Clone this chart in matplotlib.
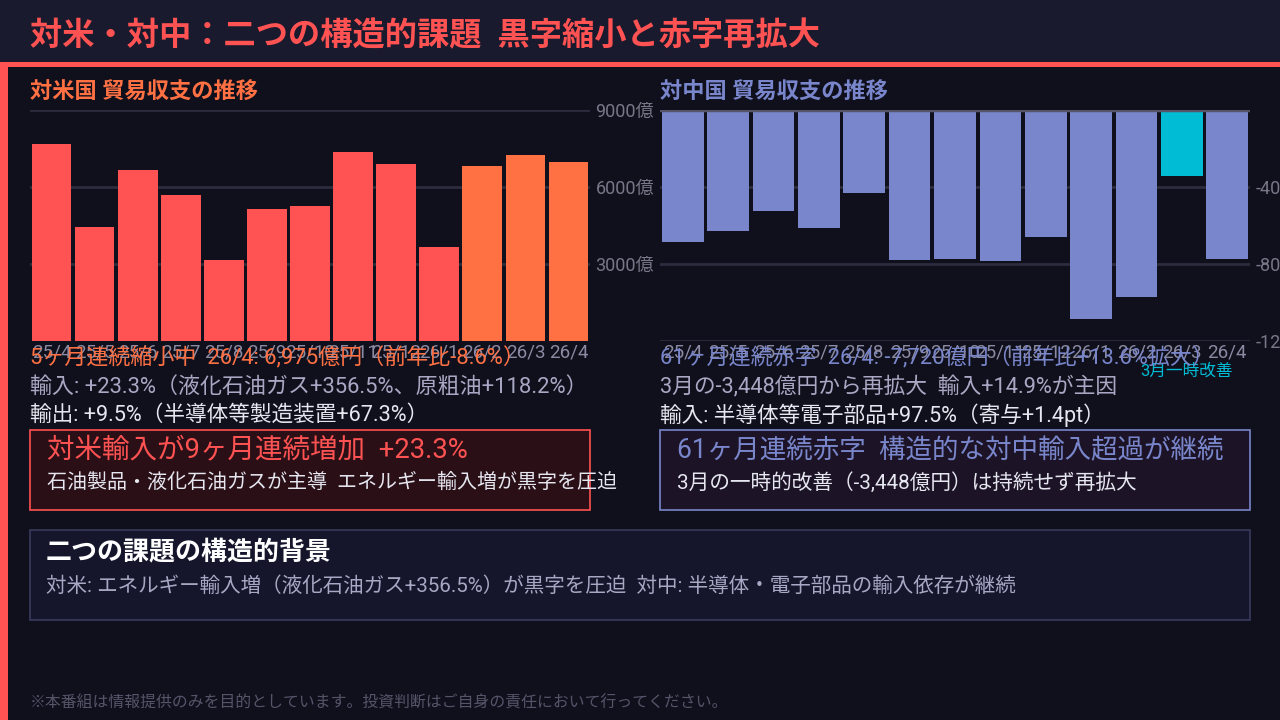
import matplotlib

matplotlib.use("Agg")
import matplotlib.pyplot as plt  # noqa: E402
from matplotlib.patches import Rectangle  # noqa: E402

# Roboto for latin/digits, Noto CJK picks up the Japanese glyphs
plt.rcParams['font.family'] = ['Roboto', 'Noto Sans CJK JP', 'DejaVu Sans']

# monthly trade balance, 億円
months = ["25/4", "25/5", "25/6", "25/7", "25/8", "25/9", "25/10",
          "25/11", "25/12", "26/1", "26/2", "26/3", "26/4"]
us_balance = [7660, 4450, 6680, 5700, 3160, 5150, 5270, 7380, 6910, 3670, 6800, 7260, 6975]
cn_balance = [-6850, -6280, -5240, -6140, -4300, -7790, -7740, -7840, -6610,
              -10860, -9710, -3448, -7720]
us_ticks = [3000, 6000, 9000]
cn_ticks = [-4000, -8000, -12000]

BG = "#10101d"
HEAD_BG = "#1a1a2e"
RED = "#ff5252"
ORANGE = "#ff7043"
INDIGO = "#7986cb"
CYAN = "#00bcd4"
GRID = "#2c2c3e"
TICK = "#777788"
SOFT = "#a8a8c4"
WHITE = "#e6e6f0"

W, H = 1280, 720


def fx(x):
    return x / W


def fy(y):
    return 1 - y / H


fig = plt.figure(figsize=(12.8, 7.2), dpi=100, facecolor=BG)


def rect(x0, y0, x1, y1, fc, ec="none", lw=1.0):
    fig.patches.append(Rectangle((fx(x0), fy(y1)), (x1 - x0) / W, (y1 - y0) / H,
                                 transform=fig.transFigure, fc=fc, ec=ec, lw=lw, zorder=0))


def txt(x, y, s, size, color, weight="normal"):
    fig.text(fx(x), fy(y), s, fontsize=size, color=color, weight=weight, va="center", ha="left")


# header band, accent line and left accent bar
rect(0, 0, 1280, 62, HEAD_BG)
rect(0, 62, 1280, 67, RED)
rect(0, 62, 8, 720, RED)
txt(30, 35, "対米・対中：二つの構造的課題  黒字縮小と赤字再拡大", 23.2, RED, "bold")


def style_axes(ax, ticks, ylim):
    ax.set_facecolor("none")
    ax.set_xlim(-0.5, len(months) - 0.5)
    ax.set_ylim(*ylim)
    for s in ax.spines.values():
        s.set_visible(False)
    ax.yaxis.tick_right()
    ax.set_yticks(ticks)
    ax.set_yticklabels([f"{t}億" for t in ticks])
    ax.set_xticks(range(len(months)))
    ax.set_xticklabels(months)
    ax.tick_params(axis="y", length=0, pad=4, labelsize=13, labelcolor=TICK)
    ax.tick_params(axis="x", length=0, pad=2, labelsize=13.5, labelcolor="#8a8aa2")
    ax.grid(axis="y", color=GRID, lw=2)
    ax.set_axisbelow(True)


# --- US panel
ax1 = fig.add_axes([fx(30), fy(341), 560 / W, 231 / H])
us_colors = [RED] * 10 + [ORANGE] * 3
ax1.bar(range(len(months)), us_balance, width=0.92, color=us_colors)
style_axes(ax1, us_ticks, (0, 9000))
txt(30, 93, "対米国 貿易収支の推移", 16, ORANGE, "bold")

# --- China panel
ax2 = fig.add_axes([fx(660), fy(341), 590 / W, 231 / H])
cn_colors = [INDIGO] * 11 + [CYAN] + [INDIGO]
ax2.bar(range(len(months)), cn_balance, width=0.92, color=cn_colors)
style_axes(ax2, cn_ticks, (-12000, 0))
ax2.axhline(0, color="#55556a", lw=2.5)
ax2.text(11.1, -0.13, "3月一時改善", transform=ax2.get_xaxis_transform(),
         fontsize=12, color=CYAN, ha="center", va="center", clip_on=False)
txt(660, 93, "対中国 貿易収支の推移", 16, INDIGO, "bold")

# --- notes under the charts
txt(30, 358, "5ヶ月連続縮小中  26/4: 6,975億円（前年比-8.6%）", 15.8, ORANGE)
txt(30, 387, "輸入: +23.3%（液化石油ガス+356.5%、原粗油+118.2%）", 15.8, SOFT)
txt(30, 415, "輸出: +9.5%（半導体等製造装置+67.3%）", 15.6, WHITE)

txt(660, 358, "61ヶ月連続赤字  26/4: -7,720億円（前年比+13.6%拡大）", 15.8, INDIGO)
txt(660, 387, "3月の-3,448億円から再拡大  輸入+14.9%が主因", 15.7, SOFT)
txt(660, 415, "輸入: 半導体等電子部品+97.5%（寄与+1.4pt）", 15.6, WHITE)

# --- callout boxes
rect(30, 430, 590, 510, "#2a1016", RED, 1.2)
txt(47, 450, "対米輸入が9ヶ月連続増加  +23.3%", 19.8, RED)
txt(47, 482, "石油製品・液化石油ガスが主導  エネルギー輸入増が黒字を圧迫", 14.4, WHITE)

rect(660, 430, 1250, 510, "#1c1426", INDIGO, 1.2)
txt(677, 451, "61ヶ月連続赤字  構造的な対中輸入超過が継続", 19.1, INDIGO)
txt(677, 482, "3月の一時的改善（-3,448億円）は持続せず再拡大", 14.9, WHITE)

rect(30, 530, 1250, 620, "#15152c", "#3a3a5c", 1.2)
txt(46, 553, "二つの課題の構造的背景", 18.7, "#ffffff", "bold")
txt(46, 586, "対米: エネルギー輸入増（液化石油ガス+356.5%）が黒字を圧迫  対中: 半導体・電子部品の輸入依存が継続",
    14.8, SOFT)

txt(30, 703, "※本番組は情報提供のみを目的としています。投資判断はご自身の責任において行ってください。",
    11.4, "#55556a")

fig.savefig("out.png", dpi=100, facecolor=BG)
